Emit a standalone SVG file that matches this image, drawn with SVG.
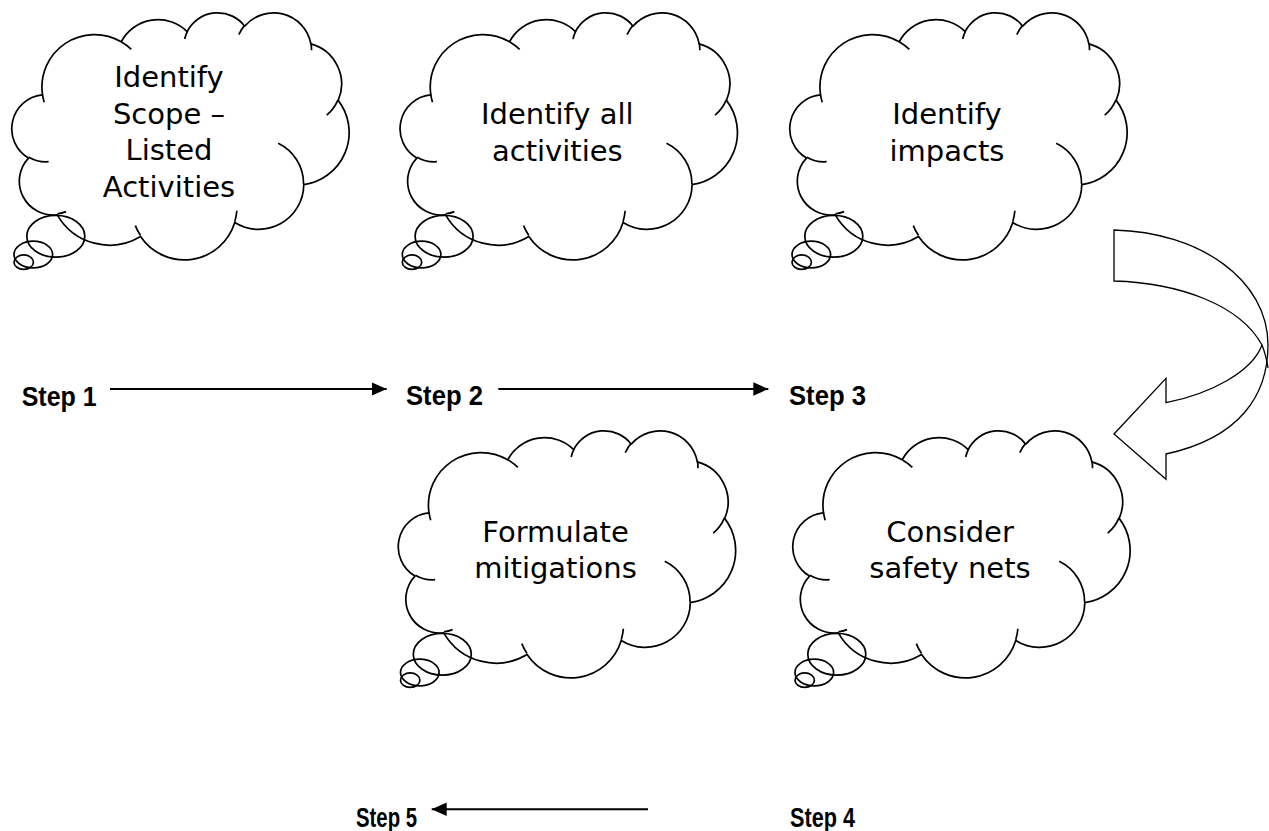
<svg xmlns="http://www.w3.org/2000/svg" xmlns:xlink="http://www.w3.org/1999/xlink" width="1269" height="831" viewBox="0 0 1269 831">
<style>
.cl{fill:#fff;stroke:#000;stroke-width:1.7;stroke-linejoin:round}
.ci{fill:none;stroke:#000;stroke-width:1.7}
.tx{font-family:"DejaVu Sans",sans-serif;font-size:29px;fill:#000;text-anchor:middle}
.st{font-family:"Liberation Sans",Arial,sans-serif;font-weight:bold;font-size:27px;fill:#000}
.ar{stroke:#000;stroke-width:2;fill:none}
</style>
<defs>
<marker id="ah" markerUnits="userSpaceOnUse" markerWidth="16" markerHeight="14" refX="15" refY="6.7" orient="auto">
<path d="M0,0 L15,6.7 L0,13.4 Z" fill="#000"/>
</marker>
<g id="cloud">
<path class="cl" d="M30.42,80.80 A52.67,51.68 0 0 1 109.24,29.25 A41.60,40.86 0 0 1 175.17,19.29 A34.05,33.43 0 0 1 232.71,13.94 A37.88,37.08 0 0 1 298.89,31.35 A41.60,40.90 0 0 1 326.19,86.92 A52.85,51.84 0 0 1 291.76,169.82 A45.12,44.24 0 0 1 222.74,206.99 A52.67,51.82 0 0 1 128.56,220.78 A60.22,59.28 0 0 1 45.29,199.45 A34.01,33.28 0 0 1 16.50,143.66 A33.89,33.43 0 0 1 30.15,81.57 Z"/>
<path class="ci" d="M36.61,147.19 A33.89,33.43 0 0 1 16.85,142.71 M54.04,196.24 A34.01,33.28 0 0 1 45.39,198.38 M128.53,219.80 A52.67,51.82 0 0 1 123.31,210.01 M224.85,195.41 A52.67,51.82 0 0 1 222.77,206.14 M266.21,129.07 A45.12,44.24 0 0 1 291.57,169.19 M326.02,86.34 A41.60,40.90 0 0 1 314.73,101.39 M298.93,30.51 A37.88,37.08 0 0 1 299.52,37.62 M226.81,22.22 A37.88,37.08 0 0 1 232.60,13.15 M172.70,26.54 A34.05,33.43 0 0 1 175.50,18.73 M109.20,29.19 A52.67,51.68 0 0 1 119.35,36.78 M32.19,88.78 A52.67,51.68 0 0 1 30.42,80.80"/>
<ellipse class="ci" cx="43.8" cy="220.5" rx="29" ry="20.6"/>
<ellipse class="ci" cx="21.3" cy="238.5" rx="19.3" ry="13.1"/>
<ellipse class="ci" cx="11.7" cy="246" rx="9.7" ry="7.1"/>
</g>
</defs>

<g id="node1">
<use xlink:href="#cloud" transform="translate(12,12) scale(1,1.017)"/>
<text class="tx" x="169" y="87.3">Identify</text>
<text class="tx" x="169" y="123.8">Scope –</text>
<text class="tx" x="169" y="160.3">Listed</text>
<text class="tx" x="169" y="196.8">Activities</text>
</g>
<g id="node2">
<use xlink:href="#cloud" transform="translate(400.3,12) scale(1,1.017)"/>
<text class="tx" x="557.3" y="124.3">Identify all</text>
<text class="tx" x="557.3" y="160.7">activities</text>
</g>
<g id="node3">
<use xlink:href="#cloud" transform="translate(790,12) scale(1,1.017)"/>
<text class="tx" x="947" y="124.3">Identify</text>
<text class="tx" x="947" y="160.7">impacts</text>
</g>
<g id="node4">
<use xlink:href="#cloud" transform="translate(398.5,430) scale(1,1.017)"/>
<text class="tx" x="555.5" y="541.7">Formulate</text>
<text class="tx" x="555.5" y="578">mitigations</text>
</g>
<g id="node5">
<use xlink:href="#cloud" transform="translate(793,430) scale(1,1.017)"/>
<text class="tx" x="950" y="541.7">Consider</text>
<text class="tx" x="950" y="578">safety nets</text>
</g>

<g id="step1"><text class="st" x="21.7" y="406" textLength="75" lengthAdjust="spacingAndGlyphs">Step 1</text></g>
<g id="step2"><text class="st" x="406" y="405" textLength="77" lengthAdjust="spacingAndGlyphs">Step 2</text></g>
<g id="step3"><text class="st" x="789" y="405" textLength="77" lengthAdjust="spacingAndGlyphs">Step 3</text></g>
<g id="step4"><text class="st" x="790" y="826.7" textLength="65" lengthAdjust="spacingAndGlyphs">Step 4</text></g>
<g id="step5"><text class="st" x="356" y="826.7" textLength="61" lengthAdjust="spacingAndGlyphs">Step 5</text></g>

<g id="connectors">
<line class="ar" x1="110" y1="389" x2="386.7" y2="389" marker-end="url(#ah)"/>
<line class="ar" x1="498.3" y1="389" x2="768.3" y2="389" marker-end="url(#ah)"/>
<line class="ar" x1="648" y1="809.3" x2="431.7" y2="809.3" marker-end="url(#ah)"/>
<g id="curved-arrow" fill="#fff" stroke="#000" stroke-width="1.3" stroke-linejoin="miter">
<path d="M1114,230 C1200,232 1268,280 1268,345 C1268,395 1240,438 1166,454 L1166,479.3 L1114,434 L1166,378.3 L1166,402.7 C1210,394 1252,372 1262,345 C1240,305 1180,283 1114,281 Z"/>
<path fill="none" d="M1262,345 Q1266,355 1268,368"/>
</g>
</g>
</svg>
